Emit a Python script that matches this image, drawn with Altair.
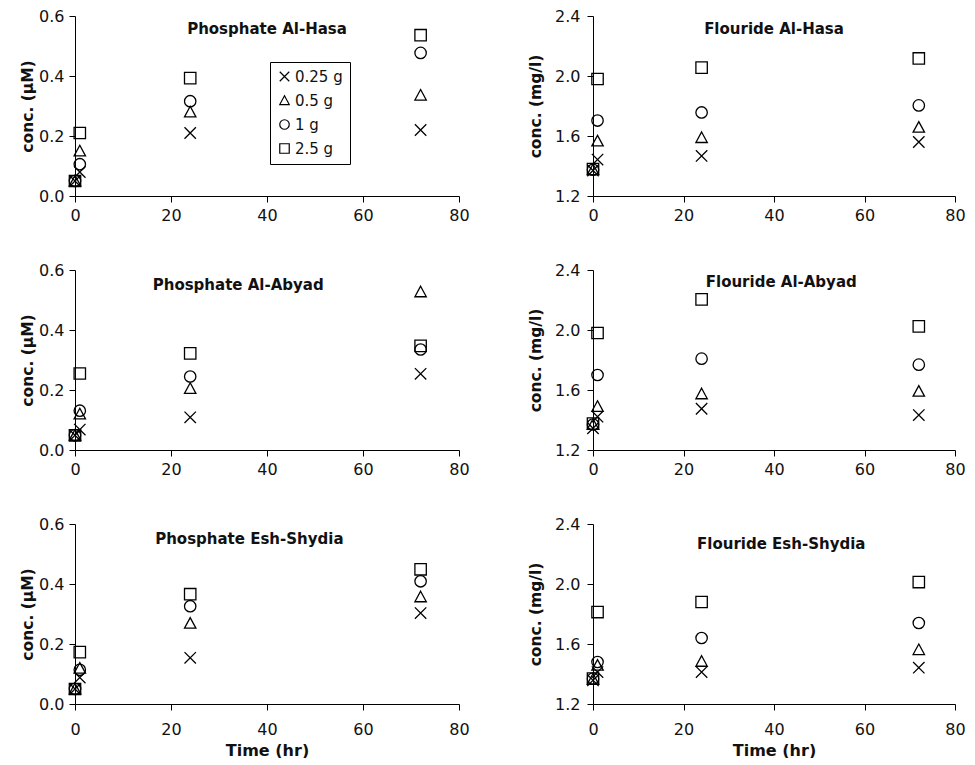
import altair as alt
import pandas as pd

times = [0, 1, 24, 72]
doses = ["0.25 g", "0.5 g", "1 g", "2.5 g"]

# Phosphate Al-Hasa (uM)
p_hasa_025 = [0.05, 0.08, 0.21, 0.22]
p_hasa_05 = [0.05, 0.15, 0.28, 0.336]
p_hasa_1 = [0.05, 0.106, 0.316, 0.477]
p_hasa_25 = [0.05, 0.21, 0.393, 0.536]

# Flouride Al-Hasa (mg/l)
f_hasa_025 = [1.37, 1.443, 1.467, 1.56]
f_hasa_05 = [1.375, 1.566, 1.589, 1.658]
f_hasa_1 = [1.375, 1.703, 1.757, 1.804]
f_hasa_25 = [1.38, 1.98, 2.056, 2.117]

# Phosphate Al-Abyad
p_abyad_025 = [0.049, 0.068, 0.109, 0.254]
p_abyad_05 = [0.049, 0.12, 0.205, 0.527]
p_abyad_1 = [0.049, 0.131, 0.245, 0.335]
p_abyad_25 = [0.049, 0.255, 0.322, 0.347]

# Flouride Al-Abyad
f_abyad_025 = [1.345, 1.422, 1.475, 1.433]
f_abyad_05 = [1.37, 1.49, 1.574, 1.591]
f_abyad_1 = [1.37, 1.70, 1.809, 1.769]
f_abyad_25 = [1.376, 1.98, 2.204, 2.024]

# Phosphate Esh-Shydia
p_shydia_025 = [0.05, 0.088, 0.154, 0.303]
p_shydia_05 = [0.05, 0.119, 0.269, 0.357]
p_shydia_1 = [0.05, 0.114, 0.326, 0.409]
p_shydia_25 = [0.05, 0.173, 0.366, 0.449]

# Flouride Esh-Shydia
f_shydia_025 = [1.358, 1.413, 1.413, 1.442]
f_shydia_05 = [1.365, 1.458, 1.484, 1.562]
f_shydia_1 = [1.369, 1.48, 1.64, 1.74]
f_shydia_25 = [1.369, 1.813, 1.88, 2.013]

FONT = "DejaVu Sans"
TXT = "#111111"
shape_range = ["M-1,-1L1,1M-1,1L1,-1", "M0,-1L1,0.85L-1,0.85Z", "circle", "square"]


def panel(series, title, kind, width, tx, ty, xtitle, left, legend=False):
    rows = []
    for dose, vals in zip(doses, series):
        for t, v in zip(times, vals):
            rows.append({"time": t, "conc": v, "dose": dose})
    df = pd.DataFrame(rows)
    if kind == "p":
        dom, ticks, ytitle = [0, 0.6], [0, 0.2, 0.4, 0.6], "conc. (µM)"
    else:
        dom, ticks, ytitle = [1.2, 2.4], [1.2, 1.6, 2.0, 2.4], "conc. (mg/l)"
    if legend:
        leg = alt.Legend(
            title=None, orient="none", legendX=195, legendY=46,
            strokeColor="black", padding=7, fillColor="white",
            symbolStrokeColor="black", symbolStrokeWidth=1.2, symbolSize=90,
            symbolFillColor="transparent",
            labelFont=FONT, labelFontSize=15, labelColor=TXT, labelOffset=3,
            rowPadding=8,
        )
    else:
        leg = None
    xaxis = alt.Axis(values=[0, 20, 40, 60, 80], format="d", labelFlush=False,
                     labelPadding=(11 if xtitle else 5), titlePadding=5,
                     titleFontSize=16,
                     title=("Time (hr)" if xtitle else None))
    yaxis = alt.Axis(values=ticks, format=".1f", title=ytitle,
                     titlePadding=(3 if left else 11),
                     labelPadding=(5 if left else 7))
    pts = alt.Chart(df).mark_point(filled=False, color="black", strokeWidth=1.3,
                                   opacity=1, size=130).encode(
        x=alt.X("time:Q", scale=alt.Scale(domain=[0, 80], nice=False), axis=xaxis),
        y=alt.Y("conc:Q", scale=alt.Scale(domain=dom, nice=False, zero=False), axis=yaxis),
        shape=alt.Shape("dose:N", scale=alt.Scale(domain=doses, range=shape_range), legend=leg),
    )
    txt = alt.Chart(pd.DataFrame({"t": [title]})).mark_text(
        font=FONT, fontWeight="bold", fontSize=15, align="center", baseline="middle", color=TXT
    ).encode(text="t:N", x=alt.value(tx * width), y=alt.value(ty))
    return alt.layer(pts, txt).properties(width=width, height=180)


LW, RW = 384, 362


def row(a, b):
    return alt.hconcat(a, b, spacing=58).resolve_scale(shape="independent").resolve_legend(shape="independent")


r1 = row(
    panel([p_hasa_025, p_hasa_05, p_hasa_1, p_hasa_25], "Phosphate Al-Hasa", "p", LW, 0.5, 13, False, True, legend=True),
    panel([f_hasa_025, f_hasa_05, f_hasa_1, f_hasa_25], "Flouride Al-Hasa", "f", RW, 0.5, 13, False, False),
)
r2 = row(
    panel([p_abyad_025, p_abyad_05, p_abyad_1, p_abyad_25], "Phosphate Al-Abyad", "p", LW, 0.425, 15, False, True),
    panel([f_abyad_025, f_abyad_05, f_abyad_1, f_abyad_25], "Flouride Al-Abyad", "f", RW, 0.52, 12, False, False),
)
r3 = row(
    panel([p_shydia_025, p_shydia_05, p_shydia_1, p_shydia_25], "Phosphate Esh-Shydia", "p", LW, 0.454, 15, True, True),
    panel([f_shydia_025, f_shydia_05, f_shydia_1, f_shydia_25], "Flouride Esh-Shydia", "f", RW, 0.52, 20, True, False),
)

chart = alt.vconcat(r1, r2, r3, spacing=39).resolve_scale(
    shape="independent"
).resolve_legend(shape="independent").properties(
    padding={"left": 12, "top": 0, "right": 0, "bottom": 0}
).configure_axis(
    labelFont=FONT, labelFontSize=16, labelColor=TXT,
    titleFont=FONT, titleFontSize=15.5, titleFontWeight="bold", titleColor=TXT,
    domainColor="black", tickColor="black", tickSize=6, grid=False,
    domainWidth=1, tickWidth=1,
).configure_view(stroke=None)

chart.save("out.html", embed_options={"renderer": "svg", "actions": False})
